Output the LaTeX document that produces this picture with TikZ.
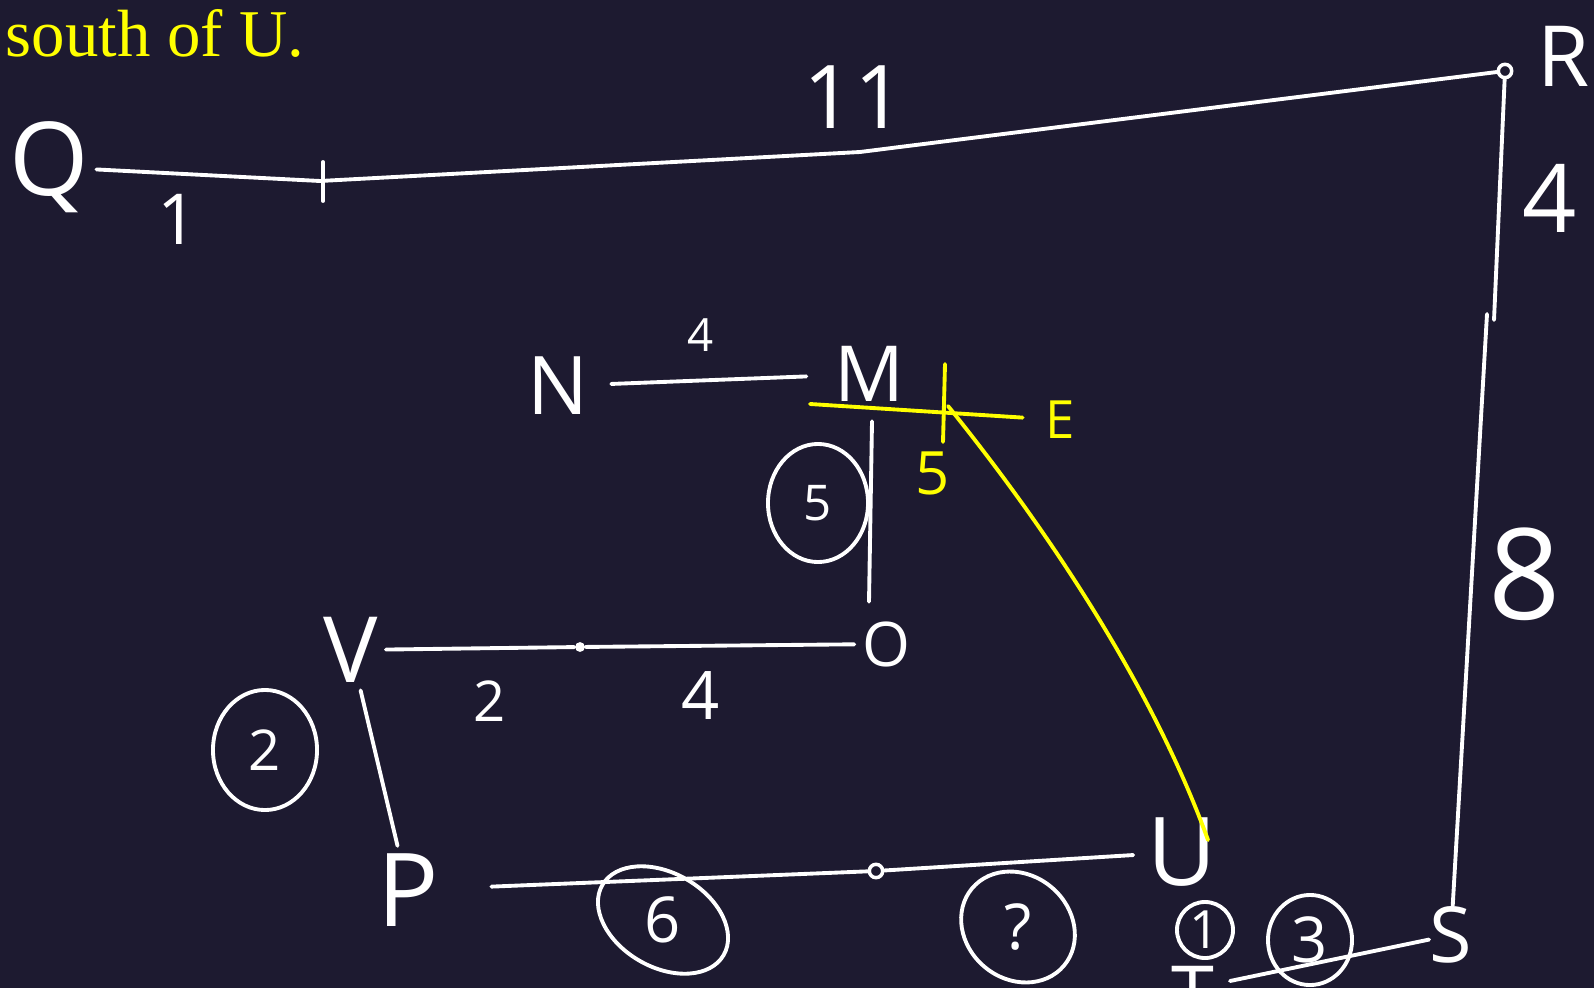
\documentclass[tikz,border=0pt]{standalone}
\usepackage{fontspec}
\setmainfont{Liberation Serif}
\newfontfamily\handfont{Open Sans}
\definecolor{sketchbg}{RGB}{29,26,48}
\definecolor{sketchyellow}{RGB}{255,255,0}
\usetikzlibrary{calc,positioning}

\begin{document}
\begin{tikzpicture}[x=0.01cm, y=-0.01cm,
  pen/.style={white, line width=1.1pt, line cap=round, line join=round},
  hilite/.style={sketchyellow, line width=1.1pt, line cap=round, line join=round},
  hand/.style={text=white, font=\handfont\fontsize{#1}{#1}\selectfont, inner sep=2pt},
  handy/.style={hand=#1, text=sketchyellow},
  knot/.style={circle, fill=white, inner sep=0pt, minimum size=2.8pt},
  ring/.style={circle, draw=white, line width=1pt, inner sep=0pt, minimum size=3.8pt}]

  % Board
  \fill[sketchbg] (0,0) rectangle (1594,988);
  \useasboundingbox (0,0) rectangle (1594,988);
  \node[font=\fontsize{19}{19}\selectfont, text=sketchyellow, anchor=base west, inner sep=0pt] (note) at (5,57) {south of U.};

  % Top edge: Q -- R
  \node[hand=29] (Q) at (49,167) {Q};
  \node[hand=24] (R) at (1564,56) {R};
  \node[ring] (rdot) at (1505,71) {};
  \coordinate (qtick) at (320,181);
  \coordinate (qmid) at (860,152);
  \draw[pen] (Q) -- (qtick) -- (qmid) -- (rdot);
  \draw[pen] ($(qtick)+(3,-19)$) -- ($(qtick)+(3,20)$);
  \node[hand=20] (lab1) at (178,219) {1};
  \node[hand=25] (lab11) at (854,97) {11};

  % Right edge: R -- S
  \node[hand=22, inner sep=0pt] (S) at (1451,935) {S};
  \coordinate (rsa) at (1494,320);
  \coordinate (rsb) at (1487,314);
  \draw[pen] (rdot) -- (rsa);
  \draw[pen] (rsb) -- (S);
  \node[hand=27] (lab4r) at (1550,198) {4};
  \node[hand=36] (lab8) at (1525,574) {8};

  % Bottom right: S -- T
  \coordinate (tend) at (1230,981);
  \draw[pen] (S) -- (tend);
  \node[hand=22] (T) at (1193,994) {T};
  \node[hand=18] (c3) at (1310,940) {3};
  \draw[pen] (c3) ellipse (0.42cm and 0.45cm);
  \node[hand=15] (c1) at (1205,930) {1};
  \draw[pen] (c1) circle (0.28cm);

  % Bottom edge: P -- U
  \node[hand=27, inner sep=1pt] (U) at (1182,852) {U};
  \node[hand=29] (P) at (408,890) {P};
  \node[ring] (pudot) at (876,871) {};
  \draw[pen, shorten <=0.45cm] (P) -- (pudot);
  \draw[pen, shorten >=0.1cm] (pudot) -- (U);
  \node[hand=18] (c6) at (663,920) {6};
  \draw[pen, shift={(c6)}, rotate=-30] (0,0) ellipse (0.7cm and 0.47cm);
  \node[hand=18] (cq) at (1018,927) {?};
  \draw[pen, shift={(cq)}, rotate=-40] (0,0) ellipse (0.6cm and 0.52cm);

  % Middle edge: V -- O
  \node[hand=26] (V) at (351,650) {V};
  \node[hand=17.5] (O) at (886,644) {O};
  \node[knot] (vodot) at (580,647) {};
  \draw[pen] (V) -- (vodot) -- (O);
  \node[hand=16] (lab2) at (490,701) {2};
  \node[hand=19] (lab4m) at (701,696) {4};

  % Left edge: V -- P
  \draw[pen] (V) -- (P);
  \node[hand=16] (c2) at (265,750) {2};
  \draw[pen] (c2) ellipse (0.52cm and 0.6cm);

  % Upper edge: N -- M, then M -- O
  \node[hand=23] (N) at (558,386) {N};
  \node[hand=22] (M) at (869,374) {M};
  \draw[pen, shorten <=0.15cm, shorten >=0.2cm] (N) -- (M);
  \node[hand=13] (lab4t) at (701,335) {4};
  \draw[pen] ($(M.south)+(3,12)$) -- ($(M.south |- O.north)+(0,-12)$);
  \node[hand=14] (c5) at (818,503) {5};
  \draw[pen] (c5) ellipse (0.5cm and 0.59cm);

  % Yellow: east line and path down to U
  \coordinate (ewest) at (810,404);
  \coordinate (ecross) at (948,406);
  \coordinate (utip) at (1208,840);
  \node[handy=15] (E) at (1060,420) {E};
  \draw[hilite, shorten >=0.15cm] (ewest) -- (E);
  \draw[hilite] ($(ecross)+(-3,-42)$) -- ($(ecross)+(-5,36)$);
  \node[handy=17] (lab5) at (933,473) {5};
  \draw[hilite] (ecross) .. controls (1040,520) and (1150,680) .. (utip);
\end{tikzpicture}
\end{document}
